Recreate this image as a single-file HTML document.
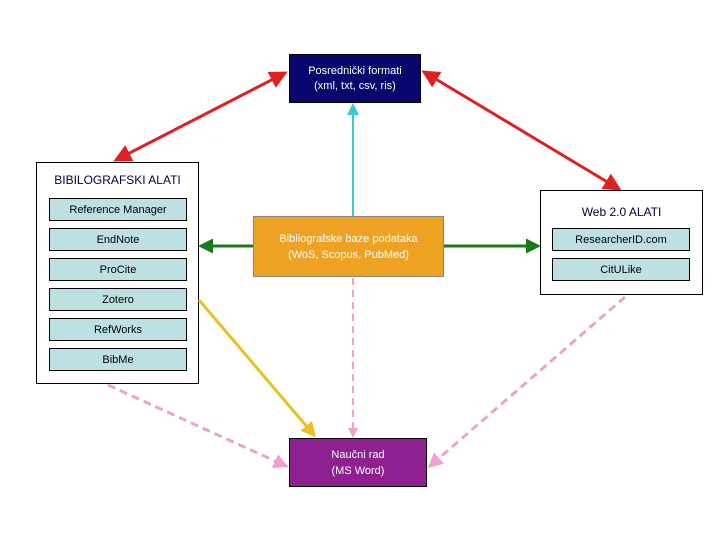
<!DOCTYPE html>
<html><head><meta charset="utf-8"><style>
body{margin:0;width:720px;height:540px;background:#fff;position:relative;overflow:hidden;font-family:"Liberation Sans",sans-serif}
.b{position:absolute;box-sizing:border-box;display:flex;align-items:center;justify-content:center;text-align:center}
.c{border:1px solid #000;background:#fff}
.i{background:#bde0e3;border:1px solid #000;font-size:11px;color:#000;height:23px}
svg{position:absolute;left:0;top:0}
</style></head><body>
<div class="b c" style="left:36px;top:162px;width:163px;height:222px"></div>
<div class="b" style="left:36px;top:170px;width:163px;height:20px;font-size:12px;color:#000040">BIBILOGRAFSKI ALATI</div>
<div class="b i" style="left:49px;top:198px;width:138px">Reference Manager</div>
<div class="b i" style="left:49px;top:228px;width:138px">EndNote</div>
<div class="b i" style="left:49px;top:258px;width:138px">ProCite</div>
<div class="b i" style="left:49px;top:288px;width:138px">Zotero</div>
<div class="b i" style="left:49px;top:318px;width:138px">RefWorks</div>
<div class="b i" style="left:49px;top:348px;width:138px">BibMe</div>
<div class="b c" style="left:540px;top:190px;width:163px;height:105px"></div>
<div class="b" style="left:540px;top:202px;width:163px;height:20px;font-size:12px;color:#000040">Web 2.0 ALATI</div>
<div class="b i" style="left:552px;top:228px;width:138px">ResearcherID.com</div>
<div class="b i" style="left:552px;top:258px;width:138px">CitULike</div>
<div class="b" style="left:289px;top:54px;width:132px;height:49px;background:#07076e;border:1px solid #000;color:#fff;font-size:11px;line-height:15px">Posrednički formati<br>(xml, txt, csv, ris)</div>
<div class="b" style="left:253px;top:216px;width:191px;height:61px;background:#eea224;border:1px solid #888;color:#fff;font-size:11px;line-height:16px">Bibliografske baze podataka<br>(WoS, Scopus, PubMed)</div>
<div class="b" style="left:289px;top:438px;width:138px;height:49px;background:#8e2090;border:1px solid #000;color:#fff;font-size:11px;line-height:16px">Naučni rad<br>(MS Word)</div>
<svg width="720" height="540">
<defs>
<marker id="r" markerWidth="6" markerHeight="6" refX="5" refY="3" orient="auto-start-reverse"><path d="M0,0L6,3L0,6z" fill="#e02020"/></marker>
<marker id="g" markerWidth="5" markerHeight="5" refX="4" refY="2.5" orient="auto"><path d="M0,0L5,2.5L0,5z" fill="#1a7a1a"/></marker>
<marker id="cy" markerWidth="6" markerHeight="6" refX="5" refY="3" orient="auto"><path d="M0,0L6,3L0,6z" fill="#40c8d0"/></marker>
<marker id="y" markerWidth="5" markerHeight="5" refX="4" refY="2.5" orient="auto"><path d="M0,0L5,2.5L0,5z" fill="#e8c020"/></marker>
<marker id="p" markerWidth="5" markerHeight="5" refX="4" refY="2.5" orient="auto"><path d="M0,0L5,2.5L0,5z" fill="#f0a0d0"/></marker>
</defs>
<line x1="285" y1="73" x2="116" y2="160" stroke="#e02020" stroke-width="3" marker-start="url(#r)" marker-end="url(#r)"/>
<line x1="424" y1="72" x2="619" y2="189" stroke="#e02020" stroke-width="3" marker-start="url(#r)" marker-end="url(#r)"/>
<line x1="353" y1="216" x2="353" y2="105" stroke="#40c8d0" stroke-width="2" marker-end="url(#cy)"/>
<line x1="253" y1="246" x2="201" y2="246" stroke="#1a7a1a" stroke-width="3" marker-end="url(#g)"/>
<line x1="444" y1="246" x2="538" y2="246" stroke="#1a7a1a" stroke-width="3" marker-end="url(#g)"/>
<line x1="199" y1="300" x2="314" y2="435" stroke="#e8c020" stroke-width="3" marker-end="url(#y)"/>
<line x1="108" y1="385" x2="286" y2="466" stroke="#f0a0d0" stroke-width="3" stroke-dasharray="8,5" marker-end="url(#p)"/>
<line x1="353" y1="278" x2="353" y2="436" stroke="#f0a0d0" stroke-width="2" stroke-dasharray="7,5" marker-end="url(#p)"/>
<line x1="625" y1="297" x2="430" y2="466" stroke="#f0a0d0" stroke-width="3" stroke-dasharray="8,5" marker-end="url(#p)"/>
</svg>
</body></html>
